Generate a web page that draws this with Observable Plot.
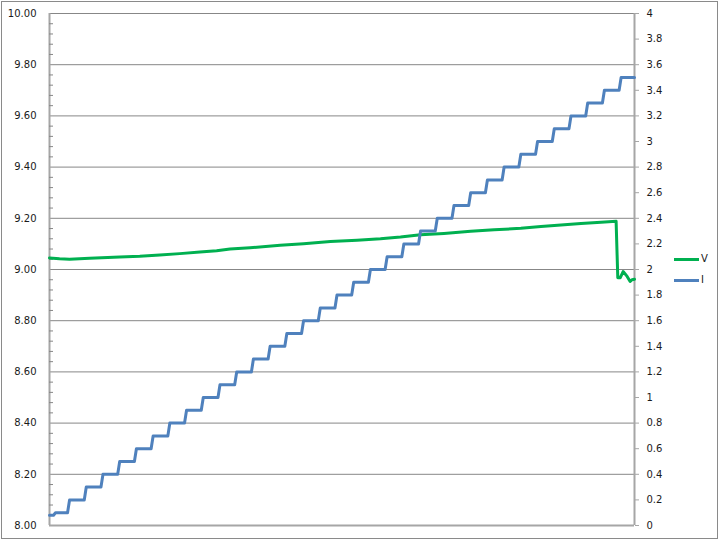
<!DOCTYPE html>
<html><head><meta charset="utf-8">
<script src="https://cdn.jsdelivr.net/npm/d3@7"></script>
<script src="https://cdn.jsdelivr.net/npm/@observablehq/plot@0.6"></script>
<style>
body{margin:0;background:#fff;}
#wrap{position:relative;width:720px;height:541px;font-family:"DejaVu Sans",Verdana,sans-serif;}
.leg{position:absolute;left:674px;height:12px;font-size:10px;line-height:12px;display:flex;align-items:center;color:#1a1a1a}
.leg .sw{display:inline-block;width:25px;height:3px;margin-right:2px}
</style></head><body><div id="wrap"></div>
<script>
const seriesNames = ["V", "I"];
const seriesColors = ["#00b050", "#4f81bd"];
const xDomain = [0, 350];
// V series (sample index, volts)
const vTime  = [0, 6, 12, 24, 42, 54, 66, 78, 90, 100, 108, 120, 138, 152, 168, 184, 198, 210, 222, 236, 252, 266, 282, 294, 306, 318, 330, 339, 340, 341.5, 343.2, 345.6, 347.4, 348.5, 350];
const vValue = [9.045, 9.042, 9.040, 9.044, 9.049, 9.052, 9.057, 9.062, 9.068, 9.073, 9.080, 9.085, 9.095, 9.101, 9.109, 9.114, 9.120, 9.127, 9.136, 9.141, 9.149, 9.155, 9.161, 9.168, 9.174, 9.180, 9.185, 9.188, 8.968, 8.968, 8.992, 8.973, 8.953, 8.960, 8.962];
// I series (sample index at each step, amps)
const iTime  = [0, 3, 11.4, 21.4, 31.4, 41.4, 51.4, 61.4, 71.4, 81.4, 91.4, 101.4, 111.4, 121.4, 131.4, 141.4, 151.4, 161.4, 171.4, 181.4, 191.4, 201.4, 211.4, 221.4, 231.4, 241.4, 251.4, 261.4, 271.4, 281.4, 291.4, 301.4, 311.4, 321.4, 331.4, 341.4, 350];
const iLevel = [0.08, 0.1, 0.2, 0.3, 0.4, 0.5, 0.6, 0.7, 0.8, 0.9, 1.0, 1.1, 1.2, 1.3, 1.4, 1.5, 1.6, 1.7, 1.8, 1.9, 2.0, 2.1, 2.2, 2.3, 2.4, 2.5, 2.6, 2.7, 2.8, 2.9, 3.0, 3.1, 3.2, 3.3, 3.4, 3.5, 3.5];
// axes
const leftTicks = [8.0, 8.2, 8.4, 8.6, 8.8, 9.0, 9.2, 9.4, 9.6, 9.8, 10.0];
const leftMinor = [8.04,8.08,8.12,8.16,8.24,8.28,8.32,8.36,8.44,8.48,8.52,8.56,8.64,8.68,8.72,8.76,8.84,8.88,8.92,8.96,9.04,9.08,9.12,9.16,9.24,9.28,9.32,9.36,9.44,9.48,9.52,9.56,9.64,9.68,9.72,9.76,9.84,9.88,9.92,9.96];
const rightTicks = [0, 0.2, 0.4, 0.6, 0.8, 1, 1.2, 1.4, 1.6, 1.8, 2, 2.2, 2.4, 2.6, 2.8, 3, 3.2, 3.4, 3.6, 3.8, 4];
const leftDomain = [8, 10];
const rightDomain = [0, 4];

const toLeft = i => leftDomain[0] + (i - rightDomain[0]) * (leftDomain[1] - leftDomain[0]) / (rightDomain[1] - rightDomain[0]);
const toRight = v => rightDomain[0] + (v - leftDomain[0]) * (rightDomain[1] - rightDomain[0]) / (leftDomain[1] - leftDomain[0]);

const vData = vTime.map((t, k) => ({t, v: vValue[k]}));
// each step rises over about one sample, as in the sampled source
const iData = [{t: iTime[0], i: iLevel[0]}];
for (let k = 1; k < iTime.length; k++) {
  if (iLevel[k] !== iLevel[k - 1]) {
    iData.push({t: iTime[k] - 0.6, i: iLevel[k - 1]});
    iData.push({t: iTime[k] + 0.6, i: iLevel[k]});
  } else {
    iData.push({t: iTime[k], i: iLevel[k]});
  }
}

const gridCol = "#878787", axisCol = "#a6a6a6";

const chart = Plot.plot({
  width: 720, height: 541,
  marginLeft: 49, marginRight: 86, marginTop: 13, marginBottom: 16,
  style: {fontFamily: '"DejaVu Sans", Verdana, sans-serif', fontSize: "10px", color: "#1a1a1a", background: "#fff"},
  x: {domain: xDomain, axis: null},
  y: {domain: leftDomain, axis: null},
  marks: [
    Plot.ruleY(leftTicks.slice(1), {stroke: gridCol, strokeWidth: 1}),
    Plot.ruleY([leftDomain[0]], {stroke: axisCol, strokeWidth: 2}),
    Plot.ruleX([xDomain[0]], {stroke: axisCol, strokeWidth: 2}),
    Plot.ruleX([xDomain[1]], {stroke: axisCol, strokeWidth: 2}),
    Plot.axisY(leftMinor, {anchor: "left", tickSize: 4, dx: 4, fill: "none", stroke: gridCol, label: null}),
    Plot.axisY(leftTicks, {anchor: "left", tickSize: 0, tickPadding: 13, tickFormat: d3.format(".2f"), label: null}),
    Plot.axisY(rightTicks.map(toLeft), {anchor: "right", tickSize: 4, tickPadding: 8, stroke: axisCol, tickFormat: v => String(+toRight(v).toFixed(2)), label: null}),
    Plot.line(vData, {x: "t", y: "v", stroke: seriesColors[0], strokeWidth: 3, strokeLinejoin: "round"}),
    Plot.line(iData, {x: "t", y: d => toLeft(d.i), stroke: seriesColors[1], strokeWidth: 3, strokeLinejoin: "round"})
  ]
});
d3.select(chart).append("rect")
  .attr("x", 1.5).attr("y", 1.5).attr("width", 716).attr("height", 537)
  .attr("fill", "none").attr("stroke", "#8a8a8a").attr("stroke-width", 1);

const wrap = document.getElementById("wrap");
wrap.appendChild(chart);
const legTops = [253, 274];
seriesNames.forEach((name, k) => {
  const d = document.createElement("div");
  d.className = "leg";
  d.style.top = legTops[k] + "px";
  d.innerHTML = `<span class="sw" style="background:${seriesColors[k]}"></span><span>${name}</span>`;
  wrap.appendChild(d);
});
</script>
</body></html>
